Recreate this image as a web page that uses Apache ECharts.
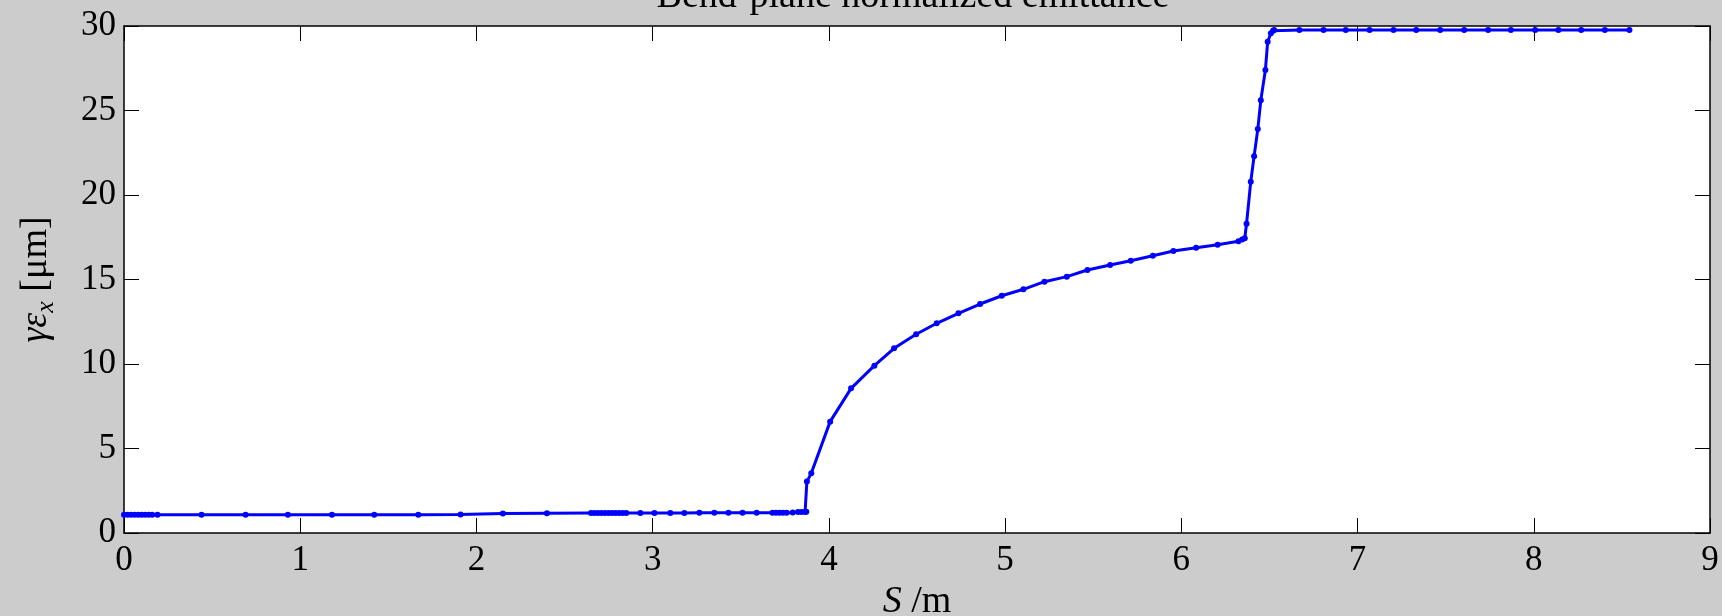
<!DOCTYPE html>
<html>
<head>
<meta charset="utf-8">
<style>
html,body{margin:0;padding:0;background:#cccccc;}
#c{width:1722px;height:616px;}
</style>
<script src="https://cdn.jsdelivr.net/npm/echarts@6/dist/echarts.min.js"></script>
</head>
<body>
<div id="c"></div>
<script>
const titleText = 'Bend-plane normalized emittance';
const xTicks = [0,1,2,3,4,5,6,7,8,9];
const yTicks = [0,5,10,15,20,25,30];

const sPos = [
  0, 0.02, 0.04, 0.06, 0.08, 0.10, 0.12, 0.14, 0.16, 0.19,
  0.44, 0.69, 0.93, 1.18, 1.42, 1.67, 1.91,
  2.15, 2.40,
  2.65, 2.67, 2.69, 2.71, 2.73, 2.75, 2.77, 2.79, 2.81, 2.83, 2.85,
  2.93, 3.01, 3.10, 3.18, 3.265, 3.35, 3.43, 3.51, 3.59,
  3.68, 3.70, 3.72, 3.74, 3.76, 3.795, 3.825, 3.845, 3.865, 3.872,
  3.875, 3.90, 4.007, 4.126, 4.258, 4.37, 4.495, 4.612, 4.735, 4.858,
  4.981, 5.104, 5.223, 5.35, 5.467, 5.596, 5.713, 5.838, 5.955, 6.084,
  6.206, 6.324, 6.345, 6.36,
  6.37, 6.394, 6.413, 6.434, 6.451, 6.477, 6.49, 6.508, 6.52, 6.527,
  6.67, 6.807, 6.933, 7.068, 7.204, 7.333, 7.469, 7.605, 7.741, 7.87,
  8.008, 8.14, 8.269, 8.403, 8.543
];
const emitX = [
  1.08, 1.08, 1.08, 1.08, 1.08, 1.08, 1.08, 1.08, 1.08, 1.08,
  1.08, 1.08, 1.08, 1.08, 1.08, 1.08, 1.09,
  1.15, 1.17,
  1.18, 1.18, 1.18, 1.18, 1.18, 1.18, 1.18, 1.18, 1.18, 1.18, 1.18,
  1.19, 1.19, 1.19, 1.19, 1.2, 1.2, 1.2, 1.2, 1.2,
  1.2, 1.2, 1.2, 1.2, 1.2, 1.22, 1.25, 1.25, 1.25, 1.26,
  3.04, 3.53, 6.59, 8.56, 9.90, 10.93, 11.76, 12.41, 13.0, 13.55,
  14.04, 14.42, 14.87, 15.17, 15.56, 15.86, 16.11, 16.41, 16.69, 16.88,
  17.06, 17.26, 17.36, 17.44,
  18.3, 20.79, 22.3, 23.9, 25.6, 27.4, 29.07, 29.57, 29.72, 29.76,
  29.76, 29.76, 29.76, 29.76, 29.76, 29.76, 29.76, 29.76, 29.76, 29.76,
  29.76, 29.76, 29.76, 29.76, 29.76
];

const data = sPos.map((s, i) => [s, emitX[i]]);
const FONT = '"Liberation Serif", "DejaVu Serif", serif';
const FS = 35;
const FSN = 38;

const chart = echarts.init(document.getElementById('c'), null, {renderer: 'canvas'});
const baseAxisLine = {show: true, onZero: false, lineStyle: {color: '#000', width: 1.5}};
const tick = {show: true, inside: true, length: 15, lineStyle: {color: '#000', width: 1}};
chart.setOption({
  backgroundColor: '#cccccc',
  animation: false,
  title: {
    text: titleText,
    left: 908, textAlign: 'center',
    top: -27,
    textStyle: {fontFamily: FONT, fontSize: FSN, fontWeight: 'normal', color: '#000'}
  },
  grid: {left: 124, right: 12, top: 26, bottom: 83, show: true, backgroundColor: '#fff', borderWidth: 0,
    containLabel: false, outerBoundsMode: 'none'},
  xAxis: [{
    type: 'value', min: 0, max: 9, interval: 1, position: 'bottom',
    axisLine: baseAxisLine, axisTick: tick, splitLine: {show: false},
    axisLabel: {color: '#000', fontFamily: FONT, fontSize: FS, margin: 10,
      formatter: v => xTicks.includes(v) ? String(v) : ''},
    name: '{i|S} /m', nameLocation: 'middle', nameGap: 47,
    nameTextStyle: {color: '#000', fontFamily: FONT, fontSize: FSN,
      rich: {i: {fontStyle: 'italic', fontFamily: FONT, fontSize: FSN, color: '#000'}}}
  }, {
    type: 'value', min: 0, max: 9, interval: 1, position: 'top',
    axisLine: baseAxisLine, axisTick: tick, splitLine: {show: false}, axisLabel: {show: false}
  }],
  yAxis: [{
    type: 'value', min: 0, max: 30, interval: 5, position: 'left',
    axisLine: baseAxisLine, axisTick: tick, splitLine: {show: false},
    axisLabel: {color: '#000', fontFamily: FONT, fontSize: FS, margin: 8,
      formatter: v => yTicks.includes(v) ? String(v) : ''},
    name: '{i|γε}{s|x} [μm]', nameLocation: 'middle', nameGap: 65, nameRotate: 90,
    nameTextStyle: {color: '#000', fontFamily: FONT, fontSize: FSN,
      rich: {
        i: {fontStyle: 'italic', fontFamily: FONT, fontSize: FSN, color: '#000'},
        s: {fontStyle: 'italic', fontFamily: FONT, fontSize: 26, color: '#000', verticalAlign: 'bottom', padding: [20, 0, 0, 0]}
      }}
  }, {
    type: 'value', min: 0, max: 30, interval: 5, position: 'right',
    axisLine: baseAxisLine, axisTick: tick, splitLine: {show: false}, axisLabel: {show: false}
  }],
  series: [{
    type: 'line', xAxisIndex: 0, yAxisIndex: 0, data: data,
    showSymbol: true, symbol: 'circle', symbolSize: 6,
    lineStyle: {color: '#0000ff', width: 3},
    itemStyle: {color: '#0000ff'},
    clip: false
  }]
});
</script>
</body>
</html>
